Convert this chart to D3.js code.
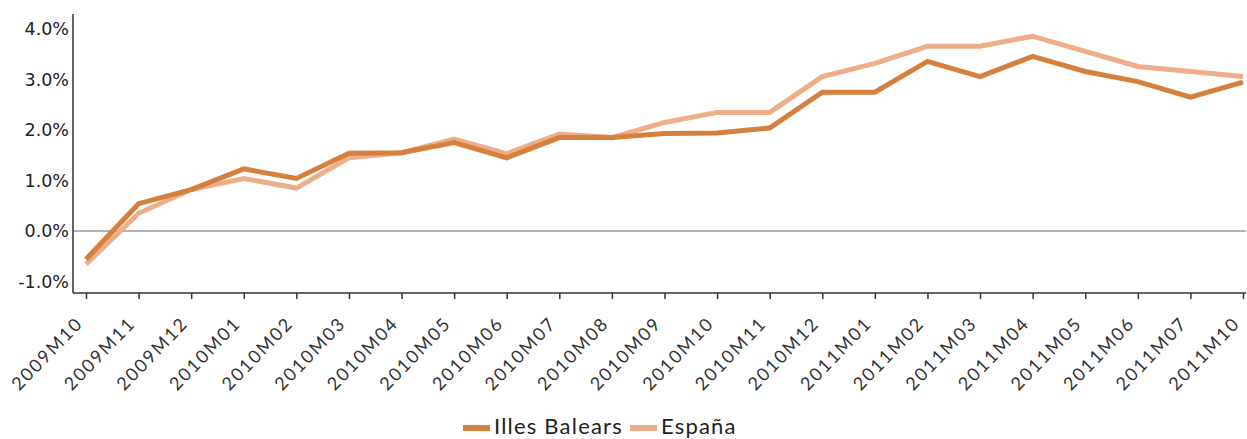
<!DOCTYPE html>
<html>
<head>
<meta charset="utf-8">
<script src="https://cdn.jsdelivr.net/npm/d3@7"></script>
<style>
  body { margin: 0; background: #fff; }
  svg { display: block; }
</style>
</head>
<body>
<div id="chart-area"></div>
<script>
const categories = ["2009M10", "2009M11", "2009M12", "2010M01", "2010M02", "2010M03",
  "2010M04", "2010M05", "2010M06", "2010M07", "2010M08", "2010M09", "2010M10",
  "2010M11", "2010M12", "2011M01", "2011M02", "2011M03", "2011M04", "2011M05",
  "2011M06", "2011M07", "2011M10"]
const balears = [-0.56, 0.54, 0.82, 1.23, 1.04, 1.54, 1.55, 1.75, 1.45, 1.85, 1.85, 1.93,
  1.94, 2.04, 2.75, 2.75, 3.36, 3.06, 3.46, 3.16, 2.96, 2.65, 2.95]
const espana = [-0.66, 0.35, 0.82, 1.04, 0.85, 1.45, 1.55, 1.82, 1.53, 1.92, 1.85, 2.15,
  2.35, 2.35, 3.06, 3.32, 3.66, 3.66, 3.86, 3.56, 3.26, 3.16, 3.06]
const yTicks = [-1, 0, 1, 2, 3, 4]
const seriesNames = ["Illes Balears", "España"]
const colors = ["#d5803c", "#eeae8a"]

const WIDTH = 1247
const HEIGHT = 439
const AXIS_X = 73
const TOP = 14
const BOTTOM = 293

const svg = d3.select("#chart-area").append("svg")
  .attr("width", WIDTH)
  .attr("height", HEIGHT)

const x = d3.scalePoint()
  .domain(categories)
  .range([86, 1243])

const y = d3.scaleLinear()
  .domain([-1.23, 4.3])
  .range([BOTTOM, TOP])

// zero line
svg.append("line")
  .attr("x1", AXIS_X).attr("x2", 1246)
  .attr("y1", y(0)).attr("y2", y(0))
  .attr("stroke", "#999")
  .attr("stroke-width", 1.5)

// Y axis
const yAxisCall = d3.axisLeft(y)
  .tickValues(yTicks)
  .tickSize(0)
  .tickPadding(4)
  .tickFormat(d => d.toFixed(1) + "%")
const yAxis = svg.append("g")
  .attr("class", "y-axis")
  .attr("transform", `translate(${AXIS_X}, 0)`)
  .call(yAxisCall)
yAxis.select(".domain")
  .attr("d", `M0,${TOP}V${BOTTOM}`)
  .attr("stroke", "#333")
  .attr("stroke-width", 1.5)
yAxis.selectAll("text")
  .attr("font-family", "DejaVu Sans")
  .attr("font-size", "17.5px")
  .attr("fill", "#222")

// X axis
const xAxisCall = d3.axisBottom(x)
  .tickSize(6)
  .tickSizeOuter(0)
const xAxis = svg.append("g")
  .attr("class", "x-axis")
  .attr("transform", `translate(0, ${BOTTOM})`)
  .call(xAxisCall)
xAxis.select(".domain")
  .attr("d", `M${AXIS_X},0H1246`)
  .attr("stroke", "#333")
  .attr("stroke-width", 1.5)
xAxis.selectAll(".tick line")
  .attr("stroke", "#333")
  .attr("stroke-width", 1.5)
xAxis.selectAll("text")
  .attr("font-family", "Lato")
  .attr("font-size", "18px")
  .attr("letter-spacing", "2px")
  .attr("fill", "#333")
  .attr("text-anchor", "end")
  .attr("y", 0)
  .attr("dy", "0.35em")
  .attr("transform", "translate(-7, 27) rotate(-46)")

// lines
const line = d3.line()
  .x((d, i) => x(categories[i]))
  .y(d => y(d))

const series = [espana, balears]
const seriesColors = [colors[1], colors[0]]
svg.selectAll("path.series")
  .data(series)
  .enter().append("path")
  .attr("class", "series")
  .attr("d", line)
  .attr("fill", "none")
  .attr("stroke", (d, i) => seriesColors[i])
  .attr("stroke-width", 5)
  .attr("stroke-linejoin", "miter")

// legend
const legendX = [463, 630]
const legend = svg.selectAll("g.legend")
  .data(seriesNames)
  .enter().append("g")
  .attr("class", "legend")
  .attr("transform", (d, i) => `translate(${legendX[i]}, 0)`)
legend.append("rect")
  .attr("x", 0)
  .attr("y", 425)
  .attr("width", 27)
  .attr("height", 6)
  .attr("fill", (d, i) => colors[i])
legend.append("text")
  .attr("x", 31)
  .attr("y", 434)
  .attr("font-family", "Lato")
  .attr("font-size", "22px")
  .attr("letter-spacing", "1.2px")
  .attr("fill", "#222")
  .text(d => d)
</script>
</body>
</html>
